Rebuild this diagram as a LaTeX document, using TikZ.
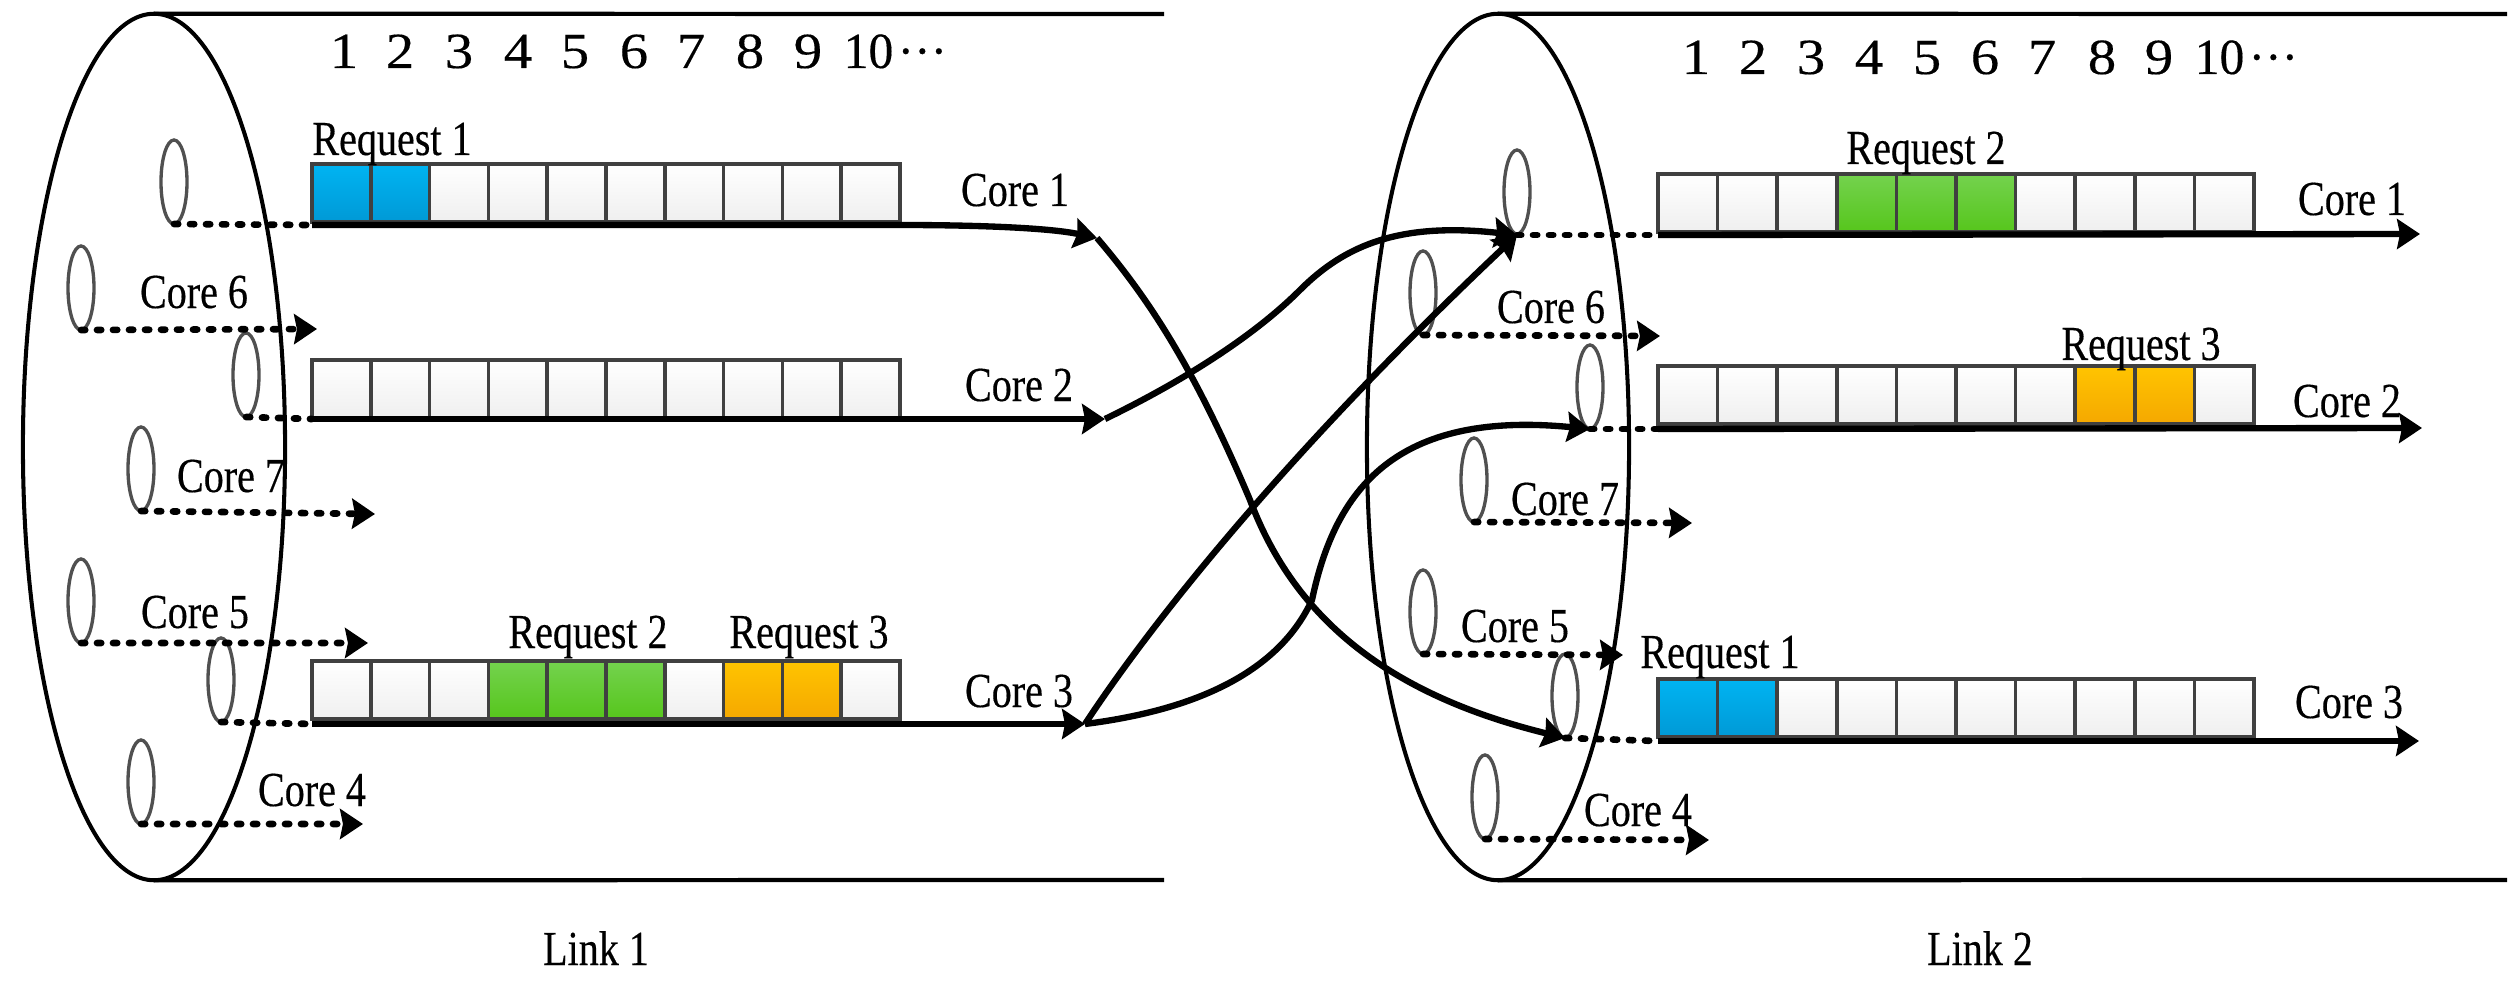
\documentclass[tikz,border=0pt]{standalone}
\usepackage{fontspec}
\setmainfont{Liberation Serif}[FakeStretch=0.82,FakeBold=0.3]
\newfontfamily\numfont{Liberation Serif}[FakeStretch=1.12,FakeBold=0.3]
\newfontfamily\tenfont{Liberation Serif}[FakeStretch=0.98,FakeBold=0.3]
\usetikzlibrary{shapes.geometric,arrows.meta}

\definecolor{slotline}{HTML}{404040}
\definecolor{fibreline}{HTML}{505050}
\definecolor{whiteT}{HTML}{FFFFFF}
\definecolor{whiteB}{HTML}{EFEFEF}
\definecolor{blueT}{HTML}{00B4F2}
\definecolor{blueB}{HTML}{0099D6}
\definecolor{greenT}{HTML}{74D24E}
\definecolor{greenB}{HTML}{56C61C}
\definecolor{orangeT}{HTML}{FFC400}
\definecolor{orangeB}{HTML}{F5A800}

\tikzset{
  cyl/.style={ellipse, draw=black, line width=1.15pt, inner sep=0pt, outer sep=0pt,
    minimum width=2.62cm, minimum height=8.66cm},
  fibre/.style={ellipse, draw=fibreline, line width=.95pt, inner sep=0pt, outer sep=0pt,
    minimum width=.26cm, minimum height=.84cm},
  wall/.style={line width=1.2pt},
  slot/.style={rectangle, anchor=north west, draw=slotline, line width=1pt,
    inner sep=0pt, outer sep=0pt, minimum height=.58cm},
  slotw/.style={top color=whiteT, bottom color=whiteB},
  slotb/.style={top color=blueT, bottom color=blueB},
  slotg/.style={top color=greenT, bottom color=greenB},
  sloto/.style={top color=orangeT, bottom color=orangeB},
  core/.style={line width=1.8pt},
  coretip/.style={core, -{Stealth[length=6.5pt,width=8.5pt,inset=.8pt]}},
  dots/.style={line width=1.9pt, line cap=round, dash pattern=on 1.2pt off 3.35pt},
  dotstip/.style={dots, -{Stealth[length=6.5pt,width=8.5pt,inset=.8pt]}},
  lbl/.style={anchor=base, inner sep=0pt, font=\fontsize{13.9pt}{16pt}\selectfont},
  num/.style={anchor=base, inner sep=0pt, font=\fontsize{14.4pt}{16pt}\numfont\selectfont},
  ten/.style={anchor=base west, inner sep=0pt, font=\fontsize{14.4pt}{16pt}\tenfont\selectfont},
}

\begin{document}
\begin{tikzpicture}[x=0.01cm, y=-0.01cm]
  \useasboundingbox (0,0) rectangle (2520,985);

  % cables
  \node[cyl] (acyl) at (154,447) {};
  \node[cyl] (bcyl) at (1498,447) {};
  \coordinate (atop) at (1164,14);
  \coordinate (abot) at (1164,880);
  \coordinate (btop) at (2507,14);
  \coordinate (bbot) at (2507,880);
  \draw[wall] (acyl.north) -- (atop);
  \draw[wall] (acyl.south) -- (abot);
  \draw[wall] (bcyl.north) -- (btop);
  \draw[wall] (bcyl.south) -- (bbot);

  % fibres, link 1
  \node[fibre] (af1) at (174,182) {};
  \node[fibre] (af6) at (81,288) {};
  \node[fibre] (af2) at (246,375) {};
  \node[fibre] (af7) at (141,469) {};
  \node[fibre] (af5) at (81,601) {};
  \node[fibre] (af3) at (221,680) {};
  \node[fibre] (af4) at (141,782) {};
  % fibres, link 2
  \node[fibre] (bf1) at (1517,192) {};
  \node[fibre] (bf6) at (1423,293) {};
  \node[fibre] (bf2) at (1590,387) {};
  \node[fibre] (bf7) at (1474,480) {};
  \node[fibre] (bf5) at (1423,612) {};
  \node[fibre] (bf3) at (1565,696) {};
  \node[fibre] (bf4) at (1485,797) {};

  % slots, link 1
  \foreach \i/\s in {1/slotb,2/slotb,3/slotw,4/slotw,5/slotw,6/slotw,7/slotw,8/slotw,9/slotw,10/slotw}
    \node[slot,\s,minimum width=.588cm] (ar1s\i) at ({312+(\i-1)*58.8},164) {};
  \foreach \i in {1,...,10}
    \node[slot,slotw,minimum width=.588cm] (ar2s\i) at ({312+(\i-1)*58.8},360) {};
  \foreach \i/\s in {1/slotw,2/slotw,3/slotw,4/slotg,5/slotg,6/slotg,7/slotw,8/sloto,9/sloto,10/slotw}
    \node[slot,\s,minimum width=.588cm] (ar3s\i) at ({312+(\i-1)*58.8},661) {};
  % slots, link 2
  \foreach \i/\s in {1/slotw,2/slotw,3/slotw,4/slotg,5/slotg,6/slotg,7/slotw,8/slotw,9/slotw,10/slotw}
    \node[slot,\s,minimum width=.596cm] (br1s\i) at ({1658+(\i-1)*59.6},174) {};
  \foreach \i/\s in {1/slotw,2/slotw,3/slotw,4/slotw,5/slotw,6/slotw,7/slotw,8/sloto,9/sloto,10/slotw}
    \node[slot,\s,minimum width=.596cm] (br2s\i) at ({1658+(\i-1)*59.6},366) {};
  \foreach \i/\s in {1/slotb,2/slotb,3/slotw,4/slotw,5/slotw,6/slotw,7/slotw,8/slotw,9/slotw,10/slotw}
    \node[slot,\s,minimum width=.596cm] (br3s\i) at ({1658+(\i-1)*59.6},679) {};

  % ends of the core lines
  \coordinate (a1s) at (312,225);
  \coordinate (a1b) at (900,225);
  \coordinate (a1t) at (1097,238);
  \coordinate (a2s) at (312,419);
  \coordinate (a2t) at (1105,419);
  \coordinate (a3s) at (312,724);
  \coordinate (a3t) at (1085,724);
  \coordinate (b1s) at (1658,235);
  \coordinate (b1t) at (2420,234);
  \coordinate (b2s) at (1658,429);
  \coordinate (b2t) at (2422,428);
  \coordinate (b3s) at (1658,741);
  \coordinate (b3t) at (2419,741);
  \coordinate (a1m) at (1250,500);
  \coordinate (a2m) at (1300,290);
  \coordinate (a3m) at (1312,600);
  \coordinate (bf1r) at (1517,235);
  \coordinate (bf2r) at (1590,429);
  \coordinate (bf3r) at (1565,738);

  % dotted stubs
  \draw[dots] (af1.south) -- (a1s);
  \draw[dots] (af2.south) -- (a2s);
  \draw[dots] (af3.south) -- (a3s);
  \draw[dots] (bf1r) -- (b1s);
  \draw[dots] (bf2r) -- (b2s);
  \draw[dots] (bf3r) -- (b3s);

  % free cores
  \coordinate (a6t) at (317,329);
  \coordinate (a7t) at (375,514);
  \coordinate (a5t) at (368,643);
  \coordinate (a4t) at (363,824);
  \coordinate (b6t) at (1660,336);
  \coordinate (b7t) at (1692,523);
  \coordinate (b5t) at (1623,655);
  \coordinate (b4t) at (1709,840);
  \draw[dotstip] (af6.south) -- (a6t);
  \draw[dotstip] (af7.south) -- (a7t);
  \draw[dotstip] (af5.south) -- (a5t);
  \draw[dotstip] (af4.south) -- (a4t);
  \draw[dotstip] (bf6.south) -- (b6t);
  \draw[dotstip] (bf7.south) -- (b7t);
  \draw[dotstip] (bf5.south) -- (b5t);
  \draw[dotstip] (bf4.south) -- (b4t);

  % used cores
  \draw[coretip] (a1s) -- (a1b) .. controls (980,225) and (1050,228) .. (a1t);
  \draw[coretip] (a2s) -- (a2t);
  \draw[coretip] (a3s) -- (a3t);
  \draw[coretip] (b1s) -- (b1t);
  \draw[coretip] (b2s) -- (b2t);
  \draw[coretip] (b3s) -- (b3t);

  % switching between the links
  \draw[coretip] (a1t) .. controls (1150,300) and (1195,370) .. (a1m)
    .. controls (1295,620) and (1390,695) .. (bf3r);
  \draw[coretip] (a2t) .. controls (1175,385) and (1250,340) .. (a2m)
    .. controls (1345,245) and (1400,222) .. (bf1r);
  \draw[coretip] (a3t) .. controls (1160,610) and (1300,440) .. (bf1r);
  \draw[coretip] (a3t) .. controls (1180,712) and (1275,680) .. (a3m)
    .. controls (1335,490) and (1395,410) .. (bf2r);

  % slot numbers
  \foreach \n/\x in {1/344,2/400,3/459,4/518,5/575,6/634,7/691,8/750,9/808}
    \node[num] (an\n) at (\x,68) {\n};
  \node[ten] (an10) at (843,68) {10\kern1.2pt···};
  \foreach \n/\x in {1/1696,2/1753,3/1811,4/1869,5/1927,6/1985,7/2042,8/2102,9/2159}
    \node[num] (bn\n) at (\x,74) {\n};
  \node[ten] (bn10) at (2194,74) {10\kern1.2pt···};

  % labels, link 1
  \node[lbl] (areq1) at (392,155) {Request 1};
  \node[lbl] (areq2) at (588,648) {Request 2};
  \node[lbl] (areq3) at (809,648) {Request 3};
  \node[lbl] (ac1) at (1015,206) {Core 1};
  \node[lbl] (ac2) at (1019,401) {Core 2};
  \node[lbl] (ac3) at (1019,707) {Core 3};
  \node[lbl] (ac4) at (312,806) {Core 4};
  \node[lbl] (ac5) at (195,628) {Core 5};
  \node[lbl] (ac6) at (194,308) {Core 6};
  \node[lbl] (ac7) at (231,492) {Core 7};
  \node[lbl] (alink) at (596,965) {Link 1};
  % labels, link 2
  \node[lbl] (breq1) at (1720,668) {Request 1};
  \node[lbl] (breq2) at (1926,164) {Request 2};
  \node[lbl] (breq3) at (2141,360) {Request 3};
  \node[lbl] (bc1) at (2352,215) {Core 1};
  \node[lbl] (bc2) at (2347,417) {Core 2};
  \node[lbl] (bc3) at (2349,718) {Core 3};
  \node[lbl] (bc4) at (1638,826) {Core 4};
  \node[lbl] (bc5) at (1515,642) {Core 5};
  \node[lbl] (bc6) at (1551,323) {Core 6};
  \node[lbl] (bc7) at (1565,515) {Core 7};
  \node[lbl] (blink) at (1980,965) {Link 2};
\end{tikzpicture}
\end{document}
